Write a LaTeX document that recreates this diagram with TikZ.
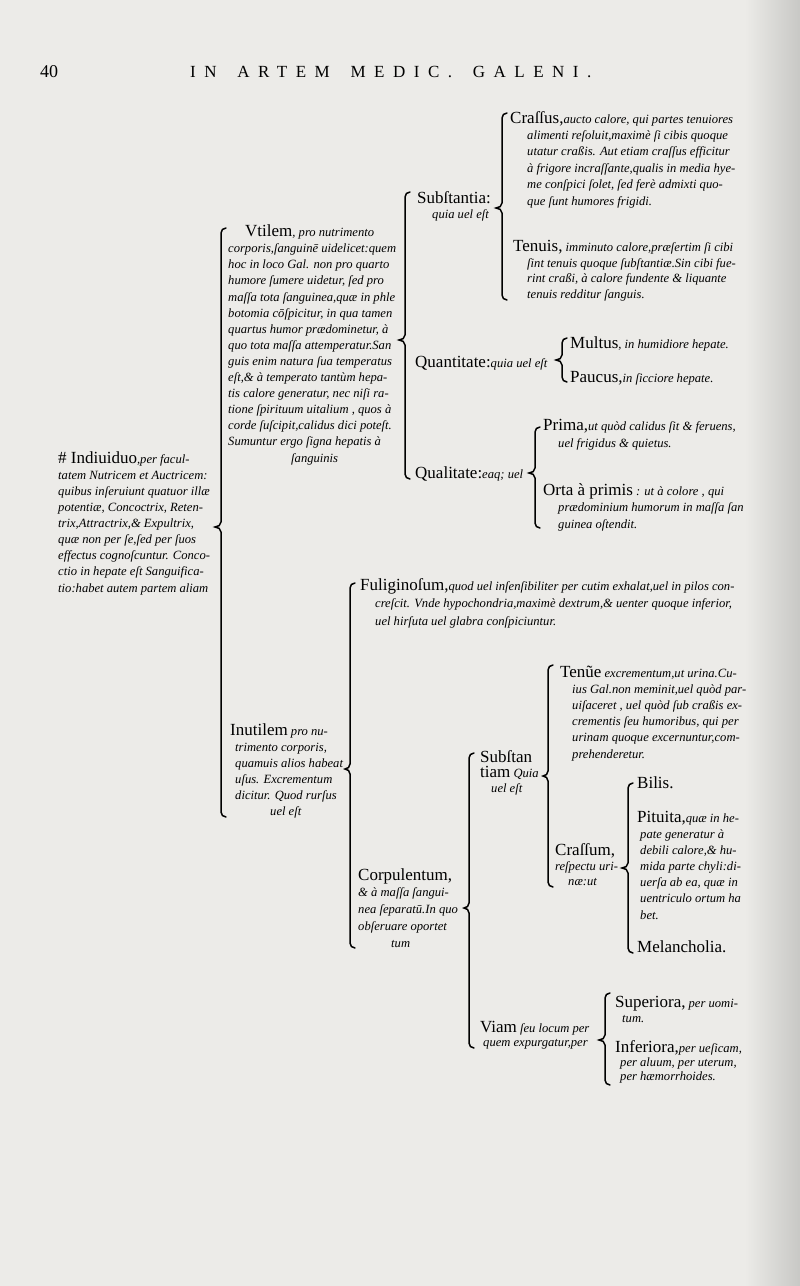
\documentclass[tikz,border=0pt]{standalone}
\usepackage{fontspec}
\setmainfont{Liberation Serif}
\newfontfamily\runningfont[LetterSpace = 50]{Liberation Serif}
\usetikzlibrary{calc}

\definecolor{paper}{RGB}{236,235,232}
\definecolor{paperedge}{RGB}{200,200,197}

% headword of a member of the division
\newcommand{\hw}[1]{{\upshape\fontsize{17}{17}\selectfont #1}}
% brace: top, tip, bottom
\newcommand{\tiebrace}[3]{%
  \draw [bracket] ($(#1) + (5, 0)$) to [out = 180, in = 90] ($(#1) + (0, 5)$)
    -- ($(#1 |- #2) + (0, -5)$) to [out = -90, in = 0] (#2)
    to [out = 0, in = 90] ($(#1 |- #2) + (0, 5)$)
    -- ($(#3) + (0, -5)$) to [out = -90, in = 180] ($(#3) + (5, 0)$);}

\begin{document}
\begin{tikzpicture}[x = 1pt, y = -1pt,
    gloss/.style = {anchor = base west, align = left, inner sep = 0pt,
      font = \itshape\fontsize{12.6}{#1}\selectfont},
    gloss/.default = 16,
    bracket/.style = {black, line width = 1.5pt, line cap = round}]
  \fill [paper] (0, 0) rectangle (800, 1286);
  \shade [left color = paper, right color = paperedge] (745, 0) rectangle (800, 1286);
  \useasboundingbox (0, 0) rectangle (800, 1286);

  % running head
  \node (folio) at (40, 77) [anchor = base west, inner sep = 0pt, font = \fontsize{18}{18}\selectfont] {40};
  \node (running) at (190, 77) [anchor = base west, inner sep = 0pt, font = \runningfont\fontsize{17}{17}\selectfont]
    {IN\hspace{8pt} ARTEM\hspace{8pt} MEDIC.\hspace{8pt} GALENI.};

  % the individual and its two parts (nodes sit on their last line)
  \node (indiuiduo) at (58, 592) [gloss = 16.1] {\hw{\# Indiuiduo},per facul-\\
    tatem Nutricem et Auctricem:\\
    quibus inſeruiunt quatuor illæ\\
    potentiæ, Concoctrix, Reten-\\
    trix,Attractrix,\& Expultrix,\\
    quæ non per ſe,ſed per ſuos\\
    effectus cognoſcuntur. Conco-\\
    ctio in hepate eſt Sanguifica-\\
    tio:habet autem partem aliam};
  \node (vtilem) at (228, 462) [gloss = 16.1] {\hspace*{17pt}\hw{Vtilem}, pro nutrimento\\
    corporis,ſanguinē uidelicet:quem\\
    hoc in loco Gal. non pro quarto\\
    humore ſumere uidetur, ſed pro\\
    maſſa tota ſanguinea,quæ in phle\\
    botomia cōſpicitur, in qua tamen\\
    quartus humor prædominetur, à\\
    quo tota maſſa attemperatur.San\\
    guis enim natura ſua temperatus\\
    eſt,\& à temperato tantùm hepa-\\
    tis calore generatur, nec niſi ra-\\
    tione ſpirituum uitalium , quos à\\
    corde ſuſcipit,calidus dici poteſt.\\
    Sumuntur ergo ſigna hepatis à\\
    \hspace*{63pt}ſanguinis};
  \node (inutilem) at (230, 815) [gloss = 16] {\hw{Inutilem} pro nu-\\
    \hspace*{5pt}trimento corporis,\\
    \hspace*{5pt}quamuis alios habeat\\
    \hspace*{5pt}uſus. Excrementum\\
    \hspace*{5pt}dicitur. Quod rurſus\\
    \hspace*{40pt}uel eſt};

  % the useful part
  \node (substantia) at (417, 218) [gloss = 15] {\hw{Subſtantia:}\\ \hspace*{15pt}quia uel eſt};
  \node (quantitate) at (415, 367) [gloss] {\hw{Quantitate:}quia uel eſt};
  \node (qualitate) at (415, 478) [gloss] {\hw{Qualitate:}eaq; uel};
  \node (crassus) at (510, 205) [gloss = 16.4] {\hw{Craſſus,}aucto calore, qui partes tenuiores\\
    \hspace*{17pt}alimenti reſoluit,maximè ſi cibis quoque\\
    \hspace*{17pt}utatur craßis. Aut etiam craſſus efficitur\\
    \hspace*{17pt}à frigore incraſſante,qualis in media hye-\\
    \hspace*{17pt}me conſpici ſolet, ſed ferè admixti quo-\\
    \hspace*{17pt}que ſunt humores frigidi.};
  \node (tenuis) at (513, 298) [gloss = 15.4] {\hw{Tenuis,} imminuto calore,præſertim ſi cibi\\
    \hspace*{14pt}ſint tenuis quoque ſubſtantiæ.Sin cibi fue-\\
    \hspace*{14pt}rint craßi, à calore fundente \& liquante\\
    \hspace*{14pt}tenuis redditur ſanguis.};
  \node (multus) at (570, 348) [gloss] {\hw{Multus}, in humidiore hepate.};
  \node (paucus) at (570, 382) [gloss] {\hw{Paucus,}in ſicciore hepate.};
  \node (prima) at (543, 447) [gloss = 17] {\hw{Prima,}ut quòd calidus ſit \& feruens,\\
    \hspace*{15pt}uel frigidus \& quietus.};
  \node (orta) at (543, 528) [gloss = 16.5] {\hw{Orta à primis} : ut à colore , qui\\
    \hspace*{15pt}prædominium humorum in maſſa ſan\\
    \hspace*{15pt}guinea oſtendit.};

  % the useless part
  \node (fuliginosum) at (360, 625) [gloss = 17.5] {\hw{Fuliginoſum,}quod uel inſenſibiliter per cutim exhalat,uel in pilos con-\\
    \hspace*{15pt}creſcit. Vnde hypochondria,maximè dextrum,\& uenter quoque inferior,\\
    \hspace*{15pt}uel hirſuta uel glabra conſpiciuntur.};
  \node (corpulentum) at (358, 947) [gloss = 16.7] {\hw{Corpulentum,}\\
    \& à maſſa ſangui-\\
    nea ſeparatū.In quo\\
    obſeruare oportet\\
    \hspace*{33pt}tum};
  \node (substantiam) at (480, 792) [gloss = 15] {\hw{Subſtan}\\ \hw{tiam} Quia\\ \hspace*{11pt}uel eſt};
  \node (viam) at (480, 1046) [gloss = 13.5] {\hw{Viam} ſeu locum per\\ \hspace*{3pt}quem expurgatur,per};
  \node (tenue) at (560, 758) [gloss = 16.2] {\hw{Tenũe} excrementum,ut urina.Cu-\\
    \hspace*{12pt}ius Gal.non meminit,uel quòd par-\\
    \hspace*{12pt}uiſaceret , uel quòd ſub craßis ex-\\
    \hspace*{12pt}crementis ſeu humoribus, qui per\\
    \hspace*{12pt}urinam quoque excernuntur,com-\\
    \hspace*{12pt}prehenderetur.};
  \node (crassum) at (555, 885) [gloss = 15] {\hw{Craſſum,}\\ reſpectu uri-\\ \hspace*{13pt}næ:ut};
  \node (bilis) at (637, 788) [gloss] {\hw{Bilis.}};
  \node (pituita) at (637, 919) [gloss = 16.1] {\hw{Pituita,}quæ in he-\\
    \hspace*{3pt}pate generatur à\\
    \hspace*{3pt}debili calore,\& hu-\\
    \hspace*{3pt}mida parte chyli:di-\\
    \hspace*{3pt}uerſa ab ea, quæ in\\
    \hspace*{3pt}uentriculo ortum ha\\
    \hspace*{3pt}bet.};
  \node (melancholia) at (637, 952) [gloss] {\hw{Melancholia.}};
  \node (superiora) at (615, 1022) [gloss = 15] {\hw{Superiora,} per uomi-\\ \hspace*{7pt}tum.};
  \node (inferiora) at (615, 1080) [gloss = 14] {\hw{Inferiora,}per ueſicam,\\
    \hspace*{5pt}per aluum, per uterum,\\
    \hspace*{5pt}per hæmorrhoides.};

  % brace ends
  \coordinate (indiuiduo-top) at (221, 228);
  \coordinate (indiuiduo-tip) at (215, 527);
  \coordinate (indiuiduo-bot) at (221, 817);
  \coordinate (vtilem-top) at (405, 192);
  \coordinate (vtilem-tip) at (399, 340);
  \coordinate (vtilem-bot) at (405, 479);
  \coordinate (substantia-top) at (502, 113);
  \coordinate (substantia-tip) at (496, 208);
  \coordinate (substantia-bot) at (502, 300);
  \coordinate (quantitate-top) at (562, 338);
  \coordinate (quantitate-tip) at (556, 360);
  \coordinate (quantitate-bot) at (562, 382);
  \coordinate (qualitate-top) at (535, 427);
  \coordinate (qualitate-tip) at (529, 473);
  \coordinate (qualitate-bot) at (535, 528);
  \coordinate (inutilem-top) at (350, 583);
  \coordinate (inutilem-tip) at (345, 769);
  \coordinate (inutilem-bot) at (350, 948);
  \coordinate (corpulentum-top) at (469, 753);
  \coordinate (corpulentum-tip) at (464, 908);
  \coordinate (corpulentum-bot) at (469, 1048);
  \coordinate (substantiam-top) at (548, 665);
  \coordinate (substantiam-tip) at (543, 776);
  \coordinate (substantiam-bot) at (548, 887);
  \coordinate (crassum-top) at (628, 783);
  \coordinate (crassum-tip) at (622, 868);
  \coordinate (crassum-bot) at (628, 953);
  \coordinate (viam-top) at (605, 993);
  \coordinate (viam-tip) at (599, 1040);
  \coordinate (viam-bot) at (605, 1085);

  \tiebrace{indiuiduo-top}{indiuiduo-tip}{indiuiduo-bot}
  \tiebrace{vtilem-top}{vtilem-tip}{vtilem-bot}
  \tiebrace{substantia-top}{substantia-tip}{substantia-bot}
  \tiebrace{quantitate-top}{quantitate-tip}{quantitate-bot}
  \tiebrace{qualitate-top}{qualitate-tip}{qualitate-bot}
  \tiebrace{inutilem-top}{inutilem-tip}{inutilem-bot}
  \tiebrace{corpulentum-top}{corpulentum-tip}{corpulentum-bot}
  \tiebrace{substantiam-top}{substantiam-tip}{substantiam-bot}
  \tiebrace{crassum-top}{crassum-tip}{crassum-bot}
  \tiebrace{viam-top}{viam-tip}{viam-bot}
\end{tikzpicture}
\end{document}
